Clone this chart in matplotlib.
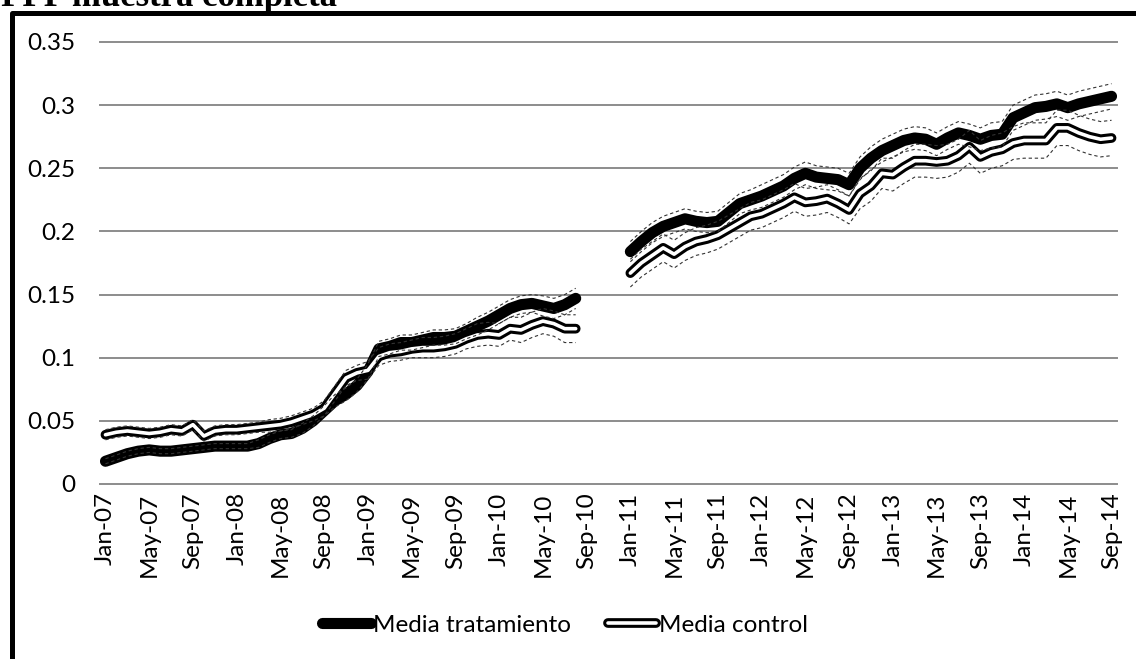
import numpy as np
import matplotlib.pyplot as plt
import matplotlib.patheffects as pe
from matplotlib.lines import Line2D

plt.rcParams['font.family'] = ['Lato', 'DejaVu Sans']

# etiquetas del eje x (una cada 4 meses, Jan-07 ... Sep-14)
etiquetas = ['Jan-07', 'May-07', 'Sep-07', 'Jan-08', 'May-08', 'Sep-08',
             'Jan-09', 'May-09', 'Sep-09', 'Jan-10', 'May-10', 'Sep-10',
             'Jan-11', 'May-11', 'Sep-11', 'Jan-12', 'May-12', 'Sep-12',
             'Jan-13', 'May-13', 'Sep-13', 'Jan-14', 'May-14', 'Sep-14']
yticks = [0, 0.05, 0.1, 0.15, 0.2, 0.25, 0.3, 0.35]
yticklabels = ['0', '0.05', '0.1', '0.15', '0.2', '0.25', '0.3', '0.35']

# medias mensuales, Jan-07 .. Aug-10
trat_07_10 = [0.018, 0.021, 0.024, 0.026, 0.027, 0.026, 0.026, 0.027, 0.028, 0.029, 0.030, 0.030,
              0.030, 0.030, 0.032, 0.036, 0.039, 0.040, 0.044, 0.050, 0.058, 0.066, 0.071, 0.078,
              0.089, 0.107, 0.109, 0.112, 0.112, 0.114, 0.116, 0.116, 0.117, 0.121, 0.125, 0.129,
              0.134, 0.139, 0.142, 0.143, 0.141, 0.139, 0.142, 0.147]
ctrl_07_10 = [0.039, 0.041, 0.042, 0.041, 0.040, 0.041, 0.043, 0.042, 0.047, 0.038, 0.042, 0.043,
              0.043, 0.044, 0.045, 0.046, 0.047, 0.049, 0.052, 0.055, 0.060, 0.072, 0.084, 0.088,
              0.090, 0.101, 0.104, 0.105, 0.107, 0.108, 0.108, 0.109, 0.111, 0.115, 0.118, 0.119,
              0.118, 0.123, 0.122, 0.126, 0.129, 0.127, 0.123, 0.123]
# Jan-11 .. Sep-14
trat_11_14 = [0.184, 0.192, 0.199, 0.204, 0.207, 0.210, 0.208, 0.207, 0.208, 0.215, 0.222, 0.225,
              0.228, 0.232, 0.236, 0.242, 0.246, 0.243, 0.242, 0.241, 0.237, 0.250, 0.258, 0.264,
              0.268, 0.272, 0.274, 0.273, 0.269, 0.274, 0.278, 0.276, 0.273, 0.276, 0.277, 0.290,
              0.294, 0.298, 0.299, 0.301, 0.298, 0.301, 0.303, 0.305, 0.307]
ctrl_11_14 = [0.167, 0.175, 0.181, 0.187, 0.182, 0.188, 0.192, 0.194, 0.197, 0.202, 0.207, 0.212,
              0.214, 0.218, 0.222, 0.227, 0.223, 0.224, 0.226, 0.222, 0.217, 0.230, 0.236, 0.246,
              0.245, 0.251, 0.256, 0.256, 0.255, 0.256, 0.260, 0.267, 0.259, 0.263, 0.265, 0.270,
              0.272, 0.272, 0.272, 0.282, 0.282, 0.278, 0.275, 0.273, 0.274]

# semi-amplitud de los intervalos (lineas punteadas)
ic_trat_07_10 = [0.002, 0.002, 0.002, 0.002, 0.002, 0.002, 0.002, 0.002, 0.002, 0.002, 0.002, 0.002,
                 0.002, 0.002, 0.003, 0.003, 0.003, 0.003, 0.004, 0.004, 0.004, 0.005, 0.005, 0.005,
                 0.006, 0.006, 0.006, 0.006, 0.006, 0.006, 0.006, 0.006, 0.006, 0.006, 0.007, 0.007,
                 0.007, 0.007, 0.007, 0.007, 0.008, 0.008, 0.008, 0.008]
ic_ctrl_07_10 = [0.004, 0.004, 0.004, 0.004, 0.004, 0.004, 0.004, 0.004, 0.004, 0.004, 0.004, 0.004,
                 0.004, 0.004, 0.004, 0.005, 0.005, 0.005, 0.005, 0.005, 0.006, 0.006, 0.006, 0.006,
                 0.007, 0.007, 0.007, 0.007, 0.007, 0.008, 0.008, 0.008, 0.008, 0.008, 0.009, 0.009,
                 0.009, 0.009, 0.010, 0.010, 0.010, 0.010, 0.011, 0.011]
ic_trat_11_14 = [0.008, 0.008, 0.008, 0.008, 0.008, 0.008, 0.008, 0.008, 0.008, 0.008, 0.008, 0.008,
                 0.009, 0.009, 0.009, 0.009, 0.009, 0.009, 0.009, 0.009, 0.009, 0.009, 0.009, 0.009,
                 0.009, 0.009, 0.009, 0.009, 0.009, 0.009, 0.009, 0.009, 0.009, 0.010, 0.010, 0.010,
                 0.010, 0.010, 0.010, 0.010, 0.010, 0.010, 0.010, 0.010, 0.010]
ic_ctrl_11_14 = [0.011, 0.011, 0.011, 0.011, 0.011, 0.011, 0.011, 0.011, 0.011, 0.011, 0.011, 0.011,
                 0.011, 0.011, 0.011, 0.011, 0.011, 0.011, 0.011, 0.011, 0.011, 0.012, 0.012, 0.012,
                 0.013, 0.013, 0.013, 0.013, 0.013, 0.013, 0.013, 0.013, 0.013, 0.013, 0.013, 0.013,
                 0.014, 0.014, 0.014, 0.014, 0.014, 0.014, 0.014, 0.014, 0.014]

hueco = [np.nan] * 4  # Sep-10 .. Dec-10 sin datos

trat = np.array(trat_07_10 + hueco + trat_11_14)
ctrl = np.array(ctrl_07_10 + hueco + ctrl_11_14)
ic_trat = np.array(ic_trat_07_10 + hueco + ic_trat_11_14)
ic_ctrl = np.array(ic_ctrl_07_10 + hueco + ic_ctrl_11_14)
x = np.arange(len(trat))

W, H = 1136, 659
fig = plt.figure(figsize=(W / 100, H / 100), dpi=100)
ax = fig.add_axes([100 / W, 1 - 484 / H, 1017 / W, 442 / H])

ax.plot(x, trat, color='black', lw=8.0, solid_capstyle='round',
        solid_joinstyle='round', label='Media tratamiento', zorder=3)
ax.plot(x, ctrl, color='white', lw=2.6, solid_capstyle='round',
        solid_joinstyle='round', label='Media control', zorder=4,
        path_effects=[pe.Stroke(linewidth=7.0, foreground='black'), pe.Normal()])

for banda in [trat + ic_trat, trat - ic_trat, ctrl + ic_ctrl, ctrl - ic_ctrl]:
    ax.plot(x, banda, color='#333333', lw=0.8, ls=(0, (3, 2.5)), zorder=5)

ax.set_xlim(-0.5, len(trat) - 0.5)
ax.set_ylim(0, 0.35)
ax.set_xticks(x[::4])
ax.set_xticklabels(etiquetas, rotation=90, fontsize=17.5)
ax.set_yticks(yticks)
ax.set_yticklabels(yticklabels, fontsize=17.5)
ax.tick_params(axis='x', length=0, pad=6)
ax.tick_params(axis='y', length=0, pad=18)
ax.yaxis.grid(True, color='#8c8c8c', lw=1.4)
for gl in ax.get_ygridlines():
    gl.set_clip_on(False)
ax.set_axisbelow(True)
for s in ax.spines.values():
    s.set_visible(False)

ax.legend(loc='center', bbox_to_anchor=(565 / W, 1 - 625 / H), bbox_transform=fig.transFigure,
          ncol=2, frameon=False, fontsize=17.5, handlelength=2.0, handletextpad=0.1,
          columnspacing=1.5)

# marco del area del grafico (solo se ven el borde superior e izquierdo)
fig.add_artist(Line2D([12 / W, 12 / W, 1.02], [-0.02, 1 - 12.5 / H, 1 - 12.5 / H],
                      transform=fig.transFigure, color='black', lw=3.6,
                      solid_joinstyle='round'))
fig.text(1 / W, 1 - 6 / H, 'PPP muestra completa', fontfamily='Liberation Serif',
         fontweight='bold', fontsize=25, ha='left', va='baseline')

fig.savefig('out.png', dpi=100)
